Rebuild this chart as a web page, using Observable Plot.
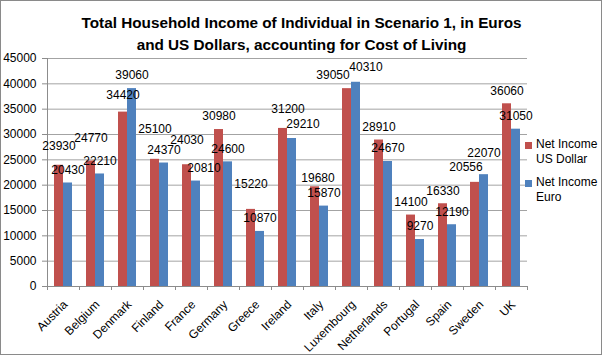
<!DOCTYPE html>
<html>
<head>
<meta charset="utf-8">
<script src="https://cdn.jsdelivr.net/npm/d3@7"></script>
<script src="https://cdn.jsdelivr.net/npm/@observablehq/plot@0.6"></script>
<style>
  html, body { margin: 0; padding: 0; background: #fff; }
  #frame { position: relative; width: 603px; height: 356px; overflow: hidden; font-family: "Liberation Sans", Arial, sans-serif; }
  #border { position: absolute; left: 0; top: 0; width: 602px; height: 355px; box-sizing: border-box; border: 1px solid #8a8a8a; pointer-events: none; }
  #title { position: absolute; left: 0; top: 12px; width: 603px; text-align: center; font-weight: bold; font-size: 15.3px; line-height: 22px; color: #000; }
  #chart { position: absolute; left: 0; top: 0; }
  .leg { position: absolute; left: 536px; font-size: 12px; line-height: 15px; color: #000; }
  .sw { position: absolute; left: 525px; width: 7px; height: 7px; }
</style>
</head>
<body>
<div id="frame">
  <div id="chart"></div>
  <div id="title">Total Household Income of Individual in Scenario 1, in Euros<br>and US Dollars, accounting for Cost of Living</div>
  <div class="sw" style="top:142px;background:#C0504D"></div>
  <div class="leg" style="top:137px">Net Income<br>US Dollar</div>
  <div class="sw" style="top:180px;background:#4F81BD"></div>
  <div class="leg" style="top:175px">Net Income<br>Euro</div>
  <div id="border"></div>
</div>
<script>
const countries = ["Austria","Belgium","Denmark","Finland","France","Germany","Greece","Ireland","Italy","Luxembourg","Netherlands","Portugal","Spain","Sweden","UK"];
const netIncomeUSD = [23930,24770,34420,25100,24030,30980,15220,31200,19680,39050,28910,14100,16330,20556,36060];
const netIncomeEUR = [20430,22210,39060,24370,20810,24600,10870,29210,15870,40310,24670,9270,12190,22070,31050];
const seriesNames = ["Net Income US Dollar", "Net Income Euro"];
const yTicks = [0,5000,10000,15000,20000,25000,30000,35000,40000,45000];

const RED = "#C0504D", BLUE = "#4F81BD";

const rows = [];
countries.forEach((c, i) => {
  rows.push({country: c, series: seriesNames[0], value: netIncomeUSD[i]});
  rows.push({country: c, series: seriesNames[1], value: netIncomeEUR[i]});
});
const usdRows = rows.filter(d => d.series === seriesNames[0]);
const eurRows = rows.filter(d => d.series === seriesNames[1]);

// label nudges (pixels) for labels moved off the default spot in the original
const labelNudge = {
  "Austria|0": [0, -6], "Belgium|0": [0, -10], "Denmark|0": [0, -4], "Finland|0": [0, -17],
  "France|0": [0, -12], "Greece|0": [0, -12], "Ireland|0": [5, -6], "Italy|0": [3, 4],
  "Luxembourg|0": [-14, 0], "Sweden|0": [-9, -2],
  "France|1": [8, 0], "Ireland|1": [11, -1], "Luxembourg|1": [10, -2], "Sweden|1": [0, -9]
};

const labelMarks = [];
[[usdRows, 0, -4.5], [eurRows, 1, 4.5]].forEach(([data, s, baseDx]) => {
  const plain = data.filter(d => !labelNudge[d.country + "|" + s]);
  labelMarks.push(Plot.text(plain, {x: "country", y: "value", text: d => String(d.value), dx: baseDx, dy: -13, fontSize: 12, fill: "#000"}));
  data.filter(d => labelNudge[d.country + "|" + s]).forEach(d => {
    const [nx, ny] = labelNudge[d.country + "|" + s];
    labelMarks.push(Plot.text([d], {x: "country", y: "value", text: d => String(d.value), dx: baseDx + nx, dy: -13 + ny, fontSize: 12, fill: "#000"}));
  });
});

const chart = Plot.plot({
  width: 603,
  height: 356,
  marginLeft: 47,
  marginRight: 76,
  marginTop: 58,
  marginBottom: 70,
  style: {fontFamily: "'Liberation Sans', Arial, sans-serif", fontSize: "12px", background: "transparent", color: "#000"},
  x: {domain: countries, padding: 0, axis: null},
  y: {domain: [0, 45000], axis: null},
  color: {domain: seriesNames, range: [RED, BLUE]},
  marks: [
    Plot.ruleY(yTicks.slice(1), {stroke: "#a3a3a3", strokeWidth: 1}),
    Plot.ruleY([0], {stroke: "#8c8c8c"}),
    Plot.ruleX([countries[0]], {x: d => d, dx: -16, y1: 0, y2: 45000, stroke: "#8c8c8c"}),
    Plot.ruleX(countries, {x: d => d, dx: -16, y1: 0, y2: 0, insetBottom: -4, stroke: "#8c8c8c"}),
    Plot.ruleX([countries[countries.length - 1]], {x: d => d, dx: 16, y1: 0, y2: 0, insetBottom: -4, stroke: "#8c8c8c"}),
    Plot.axisY({ticks: yTicks, tickSize: 5, tickPadding: 6, tickFormat: d => String(d), label: null, stroke: "#8c8c8c", fill: "#000", fontSize: 12}),
    Plot.barY(usdRows, {x: "country", y: "value", fill: "series", insetLeft: 7, insetRight: 16}),
    Plot.barY(eurRows, {x: "country", y: "value", fill: "series", insetLeft: 16, insetRight: 7}),
    ...labelMarks,
    Plot.text(countries, {x: d => d, y: 0, text: d => d, rotate: -45, textAnchor: "end", dx: 2, dy: 16, fontSize: 12, fill: "#000"})
  ]
});
document.getElementById("chart").appendChild(chart);
</script>
</body>
</html>
